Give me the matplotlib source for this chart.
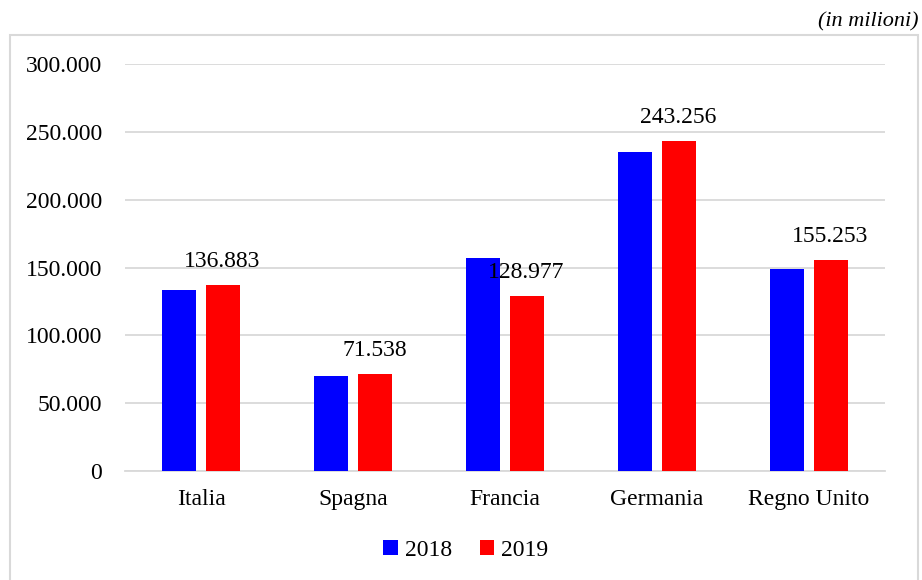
import matplotlib.pyplot as plt
from matplotlib.patches import Rectangle
import numpy as np

plt.rcParams['font.family'] = ['Liberation Serif', 'DejaVu Serif']

# --- data (in milioni) ---
paesi = ["Italia", "Spagna", "Francia", "Germania", "Regno Unito"]
val_2018 = [133.4, 70.0, 157.0, 235.1, 148.9]
val_2019 = [136.883, 71.538, 128.977, 243.256, 155.253]
labels_2019 = ["136.883", "71.538", "128.977", "243.256", "155.253"]
yticks = [0, 50, 100, 150, 200, 250, 300]
ytick_labels = ["0", "50.000", "100.000", "150.000", "200.000", "250.000", "300.000"]

FS = 17

fig = plt.figure(figsize=(9.22, 5.8), dpi=100)
ax = fig.add_axes([125 / 922, 1 - 471 / 580, 760 / 922, 407 / 580])

# outer chart frame
fig.patches.append(Rectangle((10 / 922, -0.05), 908 / 922, 1.05 - 35 / 580,
                             transform=fig.transFigure, fill=False,
                             edgecolor="#d9d9d9", linewidth=1.5))

x = np.arange(len(paesi))
w = 0.224
off = 0.142
b1 = ax.bar(x - off, val_2018, w, color="#0000ff", label="2018", zorder=3)
b2 = ax.bar(x + off, val_2019, w, color="#ff0000", label="2019", zorder=3)

for xi, v, lab in zip(x, val_2019, labels_2019):
    ax.annotate(lab, (xi + off, v), xytext=(0, 17), textcoords="offset points",
                ha="center", va="center", fontsize=FS, zorder=4)

ax.set_xlim(-0.5, len(paesi) - 0.5)
ax.set_ylim(0, 300)
ax.set_yticks(yticks)
ax.set_yticklabels(ytick_labels, fontsize=FS)
ax.set_xticks(x)
ax.set_xticklabels(paesi, fontsize=FS)
ax.tick_params(length=0)
ax.tick_params(axis="x", pad=13)
ax.tick_params(axis="y", pad=16.5)
ax.grid(axis="y", color="#d9d9d9", linewidth=1.3, zorder=0)
for s in ["top", "right", "left"]:
    ax.spines[s].set_visible(False)
ax.spines["bottom"].set_color("#d9d9d9")
ax.spines["bottom"].set_linewidth(1.3)

fig.legend(handles=[b1, b2], loc="center", bbox_to_anchor=(466 / 922, 1 - 550 / 580),
           ncol=2, frameon=False, fontsize=FS, handlelength=0.6, handleheight=0.6,
           handletextpad=0.3, columnspacing=1.2)

fig.text(918 / 922, 1 - 22 / 580, "(in milioni)", ha="right", va="center",
         fontsize=16, style="italic")

fig.savefig("out.png", dpi=100)
